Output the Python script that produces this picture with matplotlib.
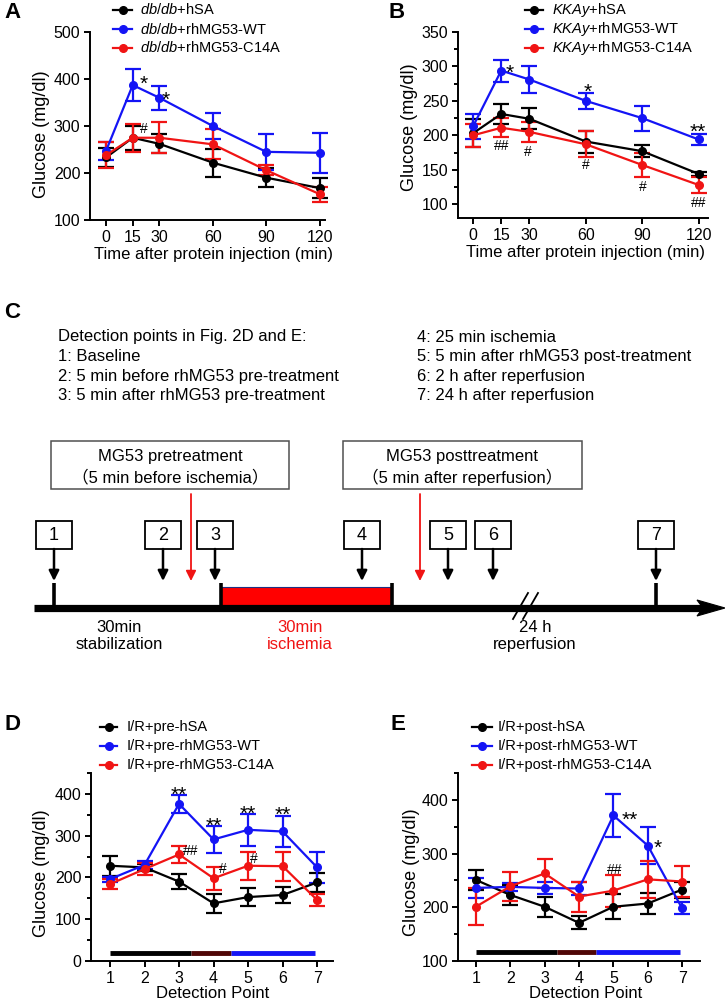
import matplotlib
matplotlib.use('Agg')
import matplotlib.pyplot as plt
import matplotlib.transforms as mtransforms
from matplotlib.lines import Line2D
from matplotlib.patches import Rectangle, Polygon
from matplotlib.ticker import MultipleLocator

plt.rcParams['font.family'] = ['Liberation Sans', 'DejaVu Sans']
plt.rcParams['mathtext.fontset'] = 'custom'
plt.rcParams['mathtext.rm'] = 'Liberation Sans'
plt.rcParams['mathtext.it'] = 'Liberation Sans:italic'

W, H = 725, 1002

# ---- data -------------------------------------------------------------
colors = ['black', '#1414f5', '#f01414']

# A: db/db mice
a_time = [0, 15, 30, 60, 90, 120]
a_labels = [r'$\it{db/db}$+hSA', r'$\it{db/db}$+rhMG53-WT',
            r'$\it{db/db}$+rhMG53-C14A']
a_hsa = [233, 275, 262, 222, 190, 168]
a_hsa_err = [20, 25, 20, 30, 20, 22]
a_wt = [247, 387, 360, 300, 245, 243]
a_wt_err = [20, 34, 26, 27, 38, 42]
a_c14a = [238, 275, 275, 261, 206, 155]
a_c14a_err = [28, 30, 33, 32, 10, 16]
a_marks = [(21, 403, '*'), (33.5, 370, '*'), (21, 295, '#')]

# B: KKAy mice
b_time = [0, 15, 30, 60, 90, 120]
b_labels = [r'$\it{KKAy}$+hSA', r'$\it{KKAy}$+rhMG53-WT',
            r'$\it{KKAy}$+rhMG53-C14A']
b_hsa = [203, 231, 224, 191, 177, 144]
b_hsa_err = [20, 15, 15, 16, 9, 3]
b_wt = [213, 294, 281, 250, 225, 194]
b_wt_err = [18, 16, 20, 12, 18, 8]
b_c14a = [200, 211, 205, 187, 157, 128]
b_c14a_err = [17, 14, 14, 19, 18, 11]
b_marks = [(19.7, 300, '*'), (60.8, 272, '*'), (119.5, 215, '**'),
           (15, 186, '##'), (29, 177, '#'), (60, 158, '#'),
           (90.5, 126, '#'), (120, 103, '##')]

# D / E: detection points
det_points = [1, 2, 3, 4, 5, 6, 7]
d_labels = ['I/R+pre-hSA', 'I/R+pre-rhMG53-WT', 'I/R+pre-rhMG53-C14A']
d_hsa = [228, 224, 190, 138, 153, 158, 188]
d_hsa_err = [24, 8, 18, 22, 22, 18, 22]
d_wt = [196, 230, 376, 291, 314, 310, 224]
d_wt_err = [6, 10, 21, 32, 39, 38, 38]
d_c14a = [184, 220, 255, 198, 228, 227, 146]
d_c14a_err = [12, 15, 21, 28, 34, 35, 15]
d_marks = [(3, 414, '**'), (4, 339, '**'), (5, 368, '**'), (6, 366, '**'),
           (3.33, 266, '##'), (4.28, 222, '#'), (5.17, 246, '#')]

e_labels = ['I/R+post-hSA', 'I/R+post-rhMG53-WT', 'I/R+post-rhMG53-C14A']
e_hsa = [251, 223, 201, 171, 201, 207, 233]
e_hsa_err = [18, 19, 19, 12, 23, 20, 15]
e_wt = [236, 238, 236, 235, 371, 315, 198]
e_wt_err = [18, 8, 11, 12, 40, 34, 11]
e_c14a = [201, 239, 263, 220, 231, 252, 248]
e_c14a_err = [34, 27, 27, 28, 30, 34, 28]
e_marks = [(5.48, 374, '**'), (6.3, 322, '*'), (5.03, 272, '##')]

phase_edges = [1, 3.35, 4.5, 6.95]
phase_colors = ['black', '#4f0606', '#1414f5']

# C: protocol text
c_left = ['Detection points in Fig. 2D and E:', '1: Baseline',
          '2: 5 min before rhMG53 pre-treatment',
          '3: 5 min after rhMG53 pre-treatment']
c_right = ['4: 25 min ischemia', '5: 5 min after rhMG53 post-treatment',
           '6: 2 h after reperfusion', '7: 24 h after reperfusion']
c_point_x = [54, 163, 215, 362, 448, 493, 656]
c_treat = [('MG53 pretreatment', '\uff085 min before ischemia\uff09'),
           ('MG53 posttreatment', '\uff085 min after reperfusion\uff09')]
c_phase = [('30min', 'stabilization', 'black'),
           ('30min', 'ischemia', '#f01414'),
           ('24 h', 'reperfusion', 'black')]

fig = plt.figure(figsize=(W / 100, H / 100), dpi=100)


def px_ax(l, t, r, b):
  return fig.add_axes([l / W, 1 - b / H, (r - l) / W, (b - t) / H])


def style_ax(ax):
  for s in ['top', 'right']:
    ax.spines[s].set_visible(False)
  for s in ['left', 'bottom']:
    ax.spines[s].set_linewidth(1.4)
  ax.tick_params(which='major', width=1.4, length=4.5, labelsize=11.5,
                 pad=2.5)
  ax.tick_params(which='minor', width=1.4, length=3)


def plot_series(ax, x, means, errs):
  for m, e, c in zip(means, errs, colors):
    ax.errorbar(x, m, yerr=e, fmt='-o', color=c, ms=5.5, lw=1.6,
                elinewidth=1.6, capsize=5.5, capthick=1.6, clip_on=False)


def put_marks(ax, items):
  for x, y, s in items:
    fs = 15 if '*' in s else 10
    k = 0.6 if '*' in s else 0.36
    tr = mtransforms.offset_copy(ax.transData, fig=fig, y=-k * fs,
                                 units='points')
    ax.text(x, y, s, transform=tr, ha='center', va='baseline', fontsize=fs)


def key(x0, x1, xt, ys, labels):
  for y, lab, c in zip(ys, labels, colors):
    fig.add_artist(Line2D([x0 / W, (x0 + x1) / 2 / W, x1 / W],
                          [1 - y / H] * 3, color=c, lw=1.6, marker='o',
                          ms=5.5, markevery=[1]))
    fig.text(xt / W, 1 - y / H, lab, va='center', fontsize=10.5)


def set_labels(ax, box, xl, xc, xy, yc, yf):
  l, t, r, b = box
  ax.set_xlabel(xl, fontsize=12, va='center')
  ax.xaxis.set_label_coords((xc - l) / (r - l), -(xy - b) / (b - t))
  ax.set_ylabel('Glucose (mg/dl)', fontsize=13, va='center')
  ax.yaxis.set_label_coords((yc - l) / (r - l), yf)


# ---- panel A ----------------------------------------------------------
boxA = (90, 32, 325, 220)
axA = px_ax(*boxA)
style_ax(axA)
plot_series(axA, a_time, [a_hsa, a_wt, a_c14a],
            [a_hsa_err, a_wt_err, a_c14a_err])
axA.set_xlim(-9, 123)
axA.set_ylim(100, 500)
axA.set_xticks(a_time)
axA.set_yticks([100, 200, 300, 400, 500])
put_marks(axA, a_marks)
set_labels(axA, boxA, 'Time after protein injection (min)', 213, 255, 41,
           0.457)
key(113, 132, 140, [10, 29, 48], a_labels)

# ---- panel B ----------------------------------------------------------
boxB = (458, 32, 708, 218)
axB = px_ax(*boxB)
style_ax(axB)
plot_series(axB, b_time, [b_hsa, b_wt, b_c14a],
            [b_hsa_err, b_wt_err, b_c14a_err])
axB.set_xlim(-8, 125)
axB.set_ylim(80, 350)
axB.set_xticks(b_time)
axB.set_yticks([100, 150, 200, 250, 300, 350])
axB.yaxis.set_minor_locator(MultipleLocator(25))
put_marks(axB, b_marks)
set_labels(axB, boxB, 'Time after protein injection (min)', 585, 253, 410,
           0.49)
key(525, 543, 552, [10, 29, 48], b_labels)

# ---- panel D ----------------------------------------------------------
boxD = (91, 773, 333, 961)
axD = px_ax(*boxD)
style_ax(axD)
for i in range(3):
  axD.plot(phase_edges[i:i + 2], [20, 20], color=phase_colors[i], lw=3.5,
           solid_capstyle='butt')
plot_series(axD, det_points, [d_hsa, d_wt, d_c14a],
            [d_hsa_err, d_wt_err, d_c14a_err])
axD.set_xlim(0.45, 7.46)
axD.set_ylim(0, 450)
axD.set_xticks(det_points)
axD.set_yticks([0, 100, 200, 300, 400])
axD.yaxis.set_minor_locator(MultipleLocator(50))
put_marks(axD, d_marks)
set_labels(axD, boxD, 'Detection Point', 213, 993, 42, 0.468)
key(100, 117, 127, [727, 746, 765], d_labels)

# ---- panel E ----------------------------------------------------------
boxE = (458, 773, 700, 961)
axE = px_ax(*boxE)
style_ax(axE)
for i in range(3):
  axE.plot(phase_edges[i:i + 2], [116, 116], color=phase_colors[i], lw=3.5,
           solid_capstyle='butt')
plot_series(axE, det_points, [e_hsa, e_wt, e_c14a],
            [e_hsa_err, e_wt_err, e_c14a_err])
axE.set_xlim(0.48, 7.52)
axE.set_ylim(100, 450)
axE.set_xticks(det_points)
axE.set_yticks([100, 200, 300, 400])
axE.yaxis.set_minor_locator(MultipleLocator(50))
put_marks(axE, e_marks)
set_labels(axE, boxE, 'Detection Point', 586, 993, 412, 0.473)
key(472, 492, 498, [727, 746, 765], e_labels)

# ---- panel C (schematic, pixel coordinates) ---------------------------
cax = px_ax(0, 300, 725, 660)
cax.set_xlim(0, 725)
cax.set_ylim(660, 300)
cax.axis('off')
for i, s in enumerate(c_left):
  cax.text(58, 337 + 19.5 * i, s, va='center', fontsize=12)
for i, s in enumerate(c_right):
  cax.text(417, 337 + 19.5 * i, s, va='center', fontsize=12)

for (l, r), (t1, t2) in zip([(51, 289), (343, 582)], c_treat):
  cax.add_patch(Rectangle((l, 441), r - l, 48, fc='white', ec='#505050',
                          lw=1.1))
  cax.text((l + r) / 2, 457, t1, ha='center', va='center', fontsize=12)
  cax.text((l + r) / 2, 477, t2, ha='center', va='center', fontsize=12,
           family=['Liberation Sans', 'Noto Sans CJK SC'])

for i, x in enumerate(c_point_x):
  cax.add_patch(Rectangle((x - 18, 521), 36, 28, fc='white', ec='black',
                          lw=1.3))
  cax.text(x, 535.5, str(i + 1), ha='center', va='center', fontsize=13)
  cax.annotate('', xy=(x, 581), xytext=(x, 549),
               arrowprops=dict(arrowstyle='-|>,head_length=0.6,head_width=0.3',
                               color='black', lw=1.8, shrinkA=0, shrinkB=0))
for x in [191, 420]:
  cax.annotate('', xy=(x, 581), xytext=(x, 494),
               arrowprops=dict(arrowstyle='-|>,head_length=0.6,head_width=0.3',
                               color='#f01414', lw=1.3, shrinkA=0, shrinkB=0))

# timeline
cax.add_patch(Rectangle((221, 587), 171, 21, fc='#ff0000', ec='none'))
cax.plot([221, 392], [587, 587], color='#203080', lw=0.8)
cax.plot([34, 704], [608, 608], color='black', lw=5.2, solid_capstyle='butt')
cax.add_patch(Polygon([(697, 600), (725, 608), (697, 616), (703, 608)],
                      closed=True, fc='black', ec='black', lw=0.8))
for x in [54, 221, 392, 656]:
  cax.plot([x, x], [583, 608], color='black', lw=2.6, solid_capstyle='butt')
for dx in [0, 10]:
  cax.plot([513 + dx, 528 + dx], [619, 593], color='black', lw=1.3)
for x, (t1, t2, c) in zip([119, 300, 535], c_phase):
  cax.text(x, 627, t1, ha='center', va='center', fontsize=12, color=c)
  cax.text(x, 644, t2, ha='center', va='center', fontsize=12, color=c)

# panel letters
for s, x, y in [('A', 4, 13), ('B', 388, 13), ('C', 4, 313), ('D', 4, 725),
                ('E', 390, 725)]:
  fig.text(x / W, 1 - y / H, s, fontsize=16, weight='bold', va='center')

fig.savefig('out.png', dpi=100)
